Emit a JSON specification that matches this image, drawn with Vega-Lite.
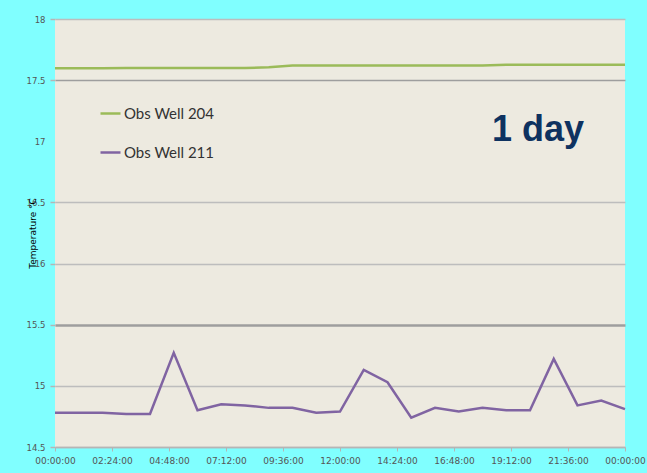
{
  "$schema": "https://vega.github.io/schema/vega-lite/v6.json",
  "width": 570,
  "height": 428,
  "autosize": {"type": "none"},
  "padding": {"left": 55, "top": 19, "right": 22, "bottom": 26},
  "background": "#80FFFF",
  "config": {
    "view": {"fill": "#EDEAE0", "stroke": null},
    "font": "DejaVu Sans"
  },
  "datasets": {
    "temps": [
      {"hour": 0, "well": "Obs Well 204", "temp": 17.597},
      {"hour": 1, "well": "Obs Well 204", "temp": 17.598},
      {"hour": 2, "well": "Obs Well 204", "temp": 17.598},
      {"hour": 3, "well": "Obs Well 204", "temp": 17.599},
      {"hour": 4, "well": "Obs Well 204", "temp": 17.6},
      {"hour": 5, "well": "Obs Well 204", "temp": 17.6},
      {"hour": 6, "well": "Obs Well 204", "temp": 17.6},
      {"hour": 7, "well": "Obs Well 204", "temp": 17.6},
      {"hour": 8, "well": "Obs Well 204", "temp": 17.6},
      {"hour": 9, "well": "Obs Well 204", "temp": 17.605},
      {"hour": 10, "well": "Obs Well 204", "temp": 17.62},
      {"hour": 11, "well": "Obs Well 204", "temp": 17.62},
      {"hour": 12, "well": "Obs Well 204", "temp": 17.62},
      {"hour": 13, "well": "Obs Well 204", "temp": 17.62},
      {"hour": 14, "well": "Obs Well 204", "temp": 17.62},
      {"hour": 15, "well": "Obs Well 204", "temp": 17.62},
      {"hour": 16, "well": "Obs Well 204", "temp": 17.62},
      {"hour": 17, "well": "Obs Well 204", "temp": 17.62},
      {"hour": 18, "well": "Obs Well 204", "temp": 17.62},
      {"hour": 19, "well": "Obs Well 204", "temp": 17.625},
      {"hour": 20, "well": "Obs Well 204", "temp": 17.625},
      {"hour": 21, "well": "Obs Well 204", "temp": 17.625},
      {"hour": 22, "well": "Obs Well 204", "temp": 17.625},
      {"hour": 23, "well": "Obs Well 204", "temp": 17.625},
      {"hour": 24, "well": "Obs Well 204", "temp": 17.625},
      {"hour": 0, "well": "Obs Well 211", "temp": 14.78},
      {"hour": 1, "well": "Obs Well 211", "temp": 14.78},
      {"hour": 2, "well": "Obs Well 211", "temp": 14.78},
      {"hour": 3, "well": "Obs Well 211", "temp": 14.77},
      {"hour": 4, "well": "Obs Well 211", "temp": 14.77},
      {"hour": 5, "well": "Obs Well 211", "temp": 15.27},
      {"hour": 6, "well": "Obs Well 211", "temp": 14.8},
      {"hour": 7, "well": "Obs Well 211", "temp": 14.85},
      {"hour": 8, "well": "Obs Well 211", "temp": 14.84},
      {"hour": 9, "well": "Obs Well 211", "temp": 14.82},
      {"hour": 10, "well": "Obs Well 211", "temp": 14.82},
      {"hour": 11, "well": "Obs Well 211", "temp": 14.78},
      {"hour": 12, "well": "Obs Well 211", "temp": 14.79},
      {"hour": 13, "well": "Obs Well 211", "temp": 15.13},
      {"hour": 14, "well": "Obs Well 211", "temp": 15.03},
      {"hour": 15, "well": "Obs Well 211", "temp": 14.74},
      {"hour": 16, "well": "Obs Well 211", "temp": 14.82},
      {"hour": 17, "well": "Obs Well 211", "temp": 14.79},
      {"hour": 18, "well": "Obs Well 211", "temp": 14.82},
      {"hour": 19, "well": "Obs Well 211", "temp": 14.8},
      {"hour": 20, "well": "Obs Well 211", "temp": 14.8},
      {"hour": 21, "well": "Obs Well 211", "temp": 15.22},
      {"hour": 22, "well": "Obs Well 211", "temp": 14.84},
      {"hour": 23, "well": "Obs Well 211", "temp": 14.88},
      {"hour": 24, "well": "Obs Well 211", "temp": 14.81}
    ],
    "note": [
      {"hour": 20.34, "temp": 17.0, "label": "1 day"}
    ]
  },
  "layer": [
    {
      "data": {"name": "temps"},
      "mark": {"type": "line", "strokeWidth": 2.5},
      "encoding": {
        "x": {
          "field": "hour",
          "type": "quantitative",
          "scale": {"domain": [0, 24], "nice": false, "zero": false},
          "axis": {
            "title": null,
            "values": [0, 2.4, 4.8, 7.2, 9.6, 12, 14.4, 16.8, 19.2, 21.6, 24],
            "labelExpr": "timeFormat(round(datum.value * 3600000) + time(datetime(2010, 0, 1)), '%H:%M:%S')",
            "grid": false,
            "domain": true,
            "domainColor": "#B5B5B5",
            "domainWidth": 1.5,
            "tickColor": "#B5B5B5",
            "tickSize": 4,
            "labelPadding": 5,
            "labelFontSize": 9,
            "labelColor": "#555555",
            "labelFlush": false,
            "labelOverlap": false
          }
        },
        "y": {
          "field": "temp",
          "type": "quantitative",
          "scale": {"domain": [14.5, 18], "nice": false, "zero": false},
          "axis": {
            "title": "Temperature °C",
            "values": [14.5, 15, 15.5, 16, 16.5, 17, 17.5, 18],
            "format": "~g",
            "grid": true,
            "gridColor": {"condition": {"test": "datum.value == 15.5 || datum.value == 17.5", "value": "#9E9E9E"}, "value": "#BDBDBD"},
            "gridWidth": {"condition": {"test": "datum.value == 15.5", "value": 2.5}, "value": 1.5},
            "gridOpacity": {"condition": {"test": "datum.value == 17", "value": 0}, "value": 1},
            "domain": false,
            "tickColor": {"condition": {"test": "datum.value == 17", "value": "transparent"}, "value": "#B5B5B5"},
            "tickSize": 5,
            "tickWidth": 1.5,
            "labelPadding": 5,
            "labelFontSize": 8.5,
            "labelColor": "#555555",
            "labelFlush": false,
            "labelOverlap": false,
            "titleX": -23,
            "titleY": 214,
            "titleAngle": -90,
            "titleAlign": "center",
            "titleBaseline": "middle",
            "titleFontSize": 9,
            "titleFontWeight": "normal",
            "titleColor": "#000000"
          }
        },
        "color": {
          "field": "well",
          "type": "nominal",
          "scale": {"domain": ["Obs Well 204", "Obs Well 211"], "range": ["#9BBB59", "#8064A2"]},
          "legend": {
            "title": null,
            "orient": "none",
            "legendX": 44,
            "legendY": 83,
            "symbolType": "stroke",
            "symbolSize": 400,
            "symbolStrokeWidth": 2.5,
            "labelFont": "Lato",
            "labelFontSize": 15,
            "labelColor": "#333333",
            "labelOffset": 2,
            "rowPadding": 19
          }
        }
      }
    },
    {
      "data": {"name": "note"},
      "mark": {"type": "text", "font": "Liberation Sans", "fontWeight": "bold", "fontSize": 36, "color": "#0E3260", "align": "center", "baseline": "alphabetic"},
      "encoding": {
        "x": {"field": "hour", "type": "quantitative"},
        "y": {"field": "temp", "type": "quantitative"},
        "text": {"field": "label"}
      }
    }
  ]
}
